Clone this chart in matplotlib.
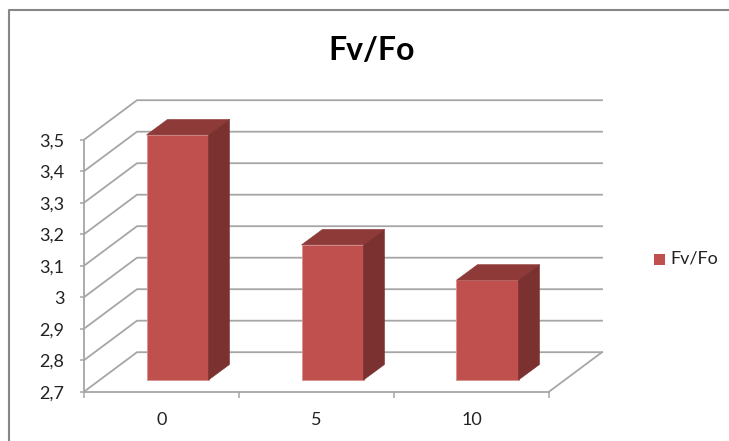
import numpy as np
import matplotlib
matplotlib.use('Agg')
import matplotlib.pyplot as plt
from matplotlib.patches import Polygon

plt.rcParams['font.family'] = ['Lato', 'DejaVu Sans']

categories = ['0', '5', '10']
values = [3.478, 3.129, 3.017]
y_ticks = [2.7, 2.8, 2.9, 3.0, 3.1, 3.2, 3.3, 3.4, 3.5]
y_labels = ['2,7', '2,8', '2,9', '3', '3,1', '3,2', '3,3', '3,4', '3,5']
series_name = 'Fv/Fo'

W, H = 729, 441
GRID = '#a6a6a6'

fig = plt.figure(figsize=(W / 100, H / 100), dpi=100)
# front face of the fake 3D box, in pixels from the reference
ax = fig.add_axes([84 / W, 1 - 391.7 / H, 465 / W, 252 / H])
ax.set_xlim(0, 3)
ax.set_ylim(2.7, 3.5)
ax.patch.set_visible(False)

# depth offset of the box, in data units
depth_x = 53 / 155
depth_y = 39.5 / 315

# walls and gridlines
for v in y_ticks:
    ax.plot([0, depth_x, 3 + depth_x], [v, v + depth_y, v + depth_y],
            color=GRID, lw=1.3, clip_on=False, zorder=1)
ax.plot([3, 3 + depth_x], [2.7, 2.7 + depth_y], color=GRID, lw=1.3, clip_on=False, zorder=1)

# bars: front, top, side faces
bar_w = 62 / 155
inset_x = 16 / 155
inset_y = 11.7 / 315
bar_dx = 21 / 155
bar_dy = 15.5 / 315
base = 2.7 + inset_y
for i, v in enumerate(values):
    x0 = i + 0.5 - bar_w / 2 + inset_x
    x1 = x0 + bar_w
    top_y = v + inset_y
    front = [(x0, base), (x1, base), (x1, top_y), (x0, top_y)]
    top = [(x0, top_y), (x1, top_y), (x1 + bar_dx, top_y + bar_dy), (x0 + bar_dx, top_y + bar_dy)]
    side = [(x1, base), (x1 + bar_dx, base + bar_dy), (x1 + bar_dx, top_y + bar_dy), (x1, top_y)]
    ax.add_patch(Polygon(front, fc='#c0504d', ec='#d9928f', lw=0.6, clip_on=False, zorder=3))
    ax.add_patch(Polygon(top, fc='#8e3a38', ec='#8e3a38', lw=0.4, clip_on=False, zorder=3))
    ax.add_patch(Polygon(side, fc='#7b3130', ec='#7b3130', lw=0.4, clip_on=False, zorder=3))

# axes
for s in ['top', 'right']:
    ax.spines[s].set_visible(False)
for s in ['left', 'bottom']:
    ax.spines[s].set_color(GRID)
    ax.spines[s].set_linewidth(1.3)
ax.set_yticks(y_ticks)
ax.set_yticklabels(y_labels)
ax.set_xticks([0, 1, 2, 3])
ax.set_xticklabels([])
ax.set_xticks([0.5, 1.5, 2.5], minor=True)
ax.set_xticklabels(categories, minor=True)
ax.tick_params(axis='y', length=3, width=1.1, color=GRID, labelsize=13, labelcolor='#222222', pad=11)
ax.tick_params(axis='x', which='major', length=4, width=1.1, color=GRID)
ax.tick_params(axis='x', which='minor', length=0, labelsize=13, labelcolor='#222222', pad=14.5)

# title
fig.text(372 / W, 1 - 51 / H, series_name, ha='center', va='center', fontsize=23, fontweight='bold', color='black')

# legend
fig.patches.append(plt.Rectangle((654 / W, 1 - 264.5 / H), 10.5 / W, 10.5 / H, transform=fig.transFigure,
                                 fc='#c0504d', ec='none'))
fig.text(670 / W, 1 - 259 / H, series_name, ha='left', va='center', fontsize=13, color='#222222')

# chart frame, top and left edges only
frame_x = [9 / W, 9 / W, 1]
frame_y = [0, 1 - 9.5 / H, 1 - 9.5 / H]
fig.add_artist(plt.Line2D(frame_x, frame_y, transform=fig.transFigure, color='#868686', lw=1.5))

fig.savefig('out.png', dpi=100)
